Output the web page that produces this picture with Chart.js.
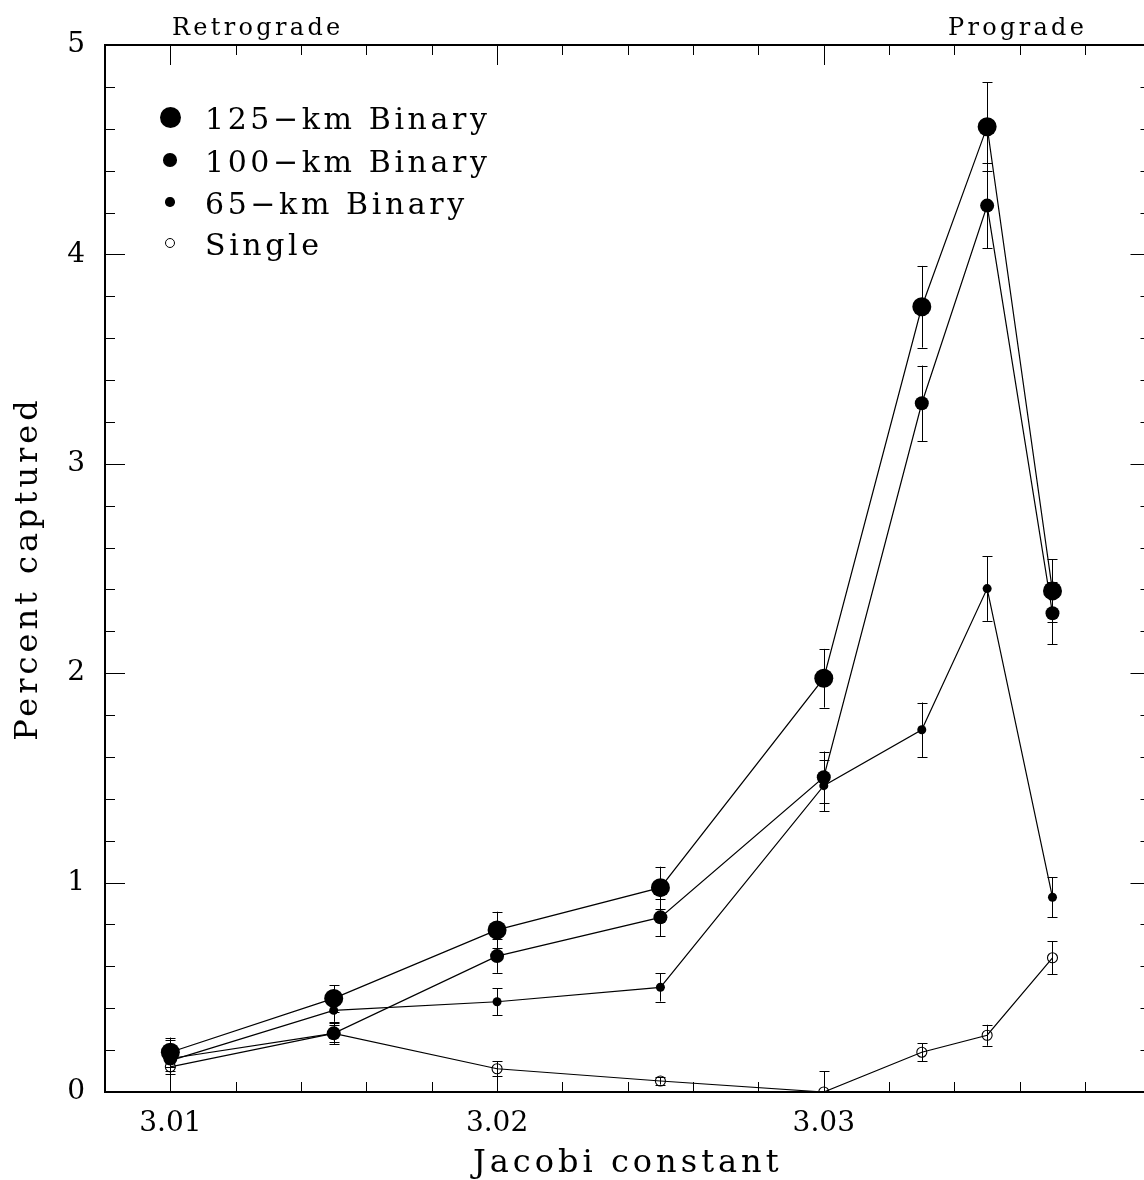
<!DOCTYPE html>
<html>
<head>
<meta charset="utf-8">
<script src="https://cdn.jsdelivr.net/npm/chart.js@4.4.1/dist/chart.umd.min.js"></script>
<style>
html,body{margin:0;padding:0;background:#fff;overflow:hidden;width:1144px;height:1180px;}
#wrap{position:relative;width:1160px;height:1180px;}
#c{position:absolute;left:0;top:0;}
.txt{position:absolute;font-family:'DejaVu Serif';color:#000;white-space:nowrap;}
.mk{position:absolute;border-radius:50%;box-sizing:border-box;}
</style>
</head>
<body>
<div id="wrap">
  <canvas id="c" width="1160" height="1180"></canvas>
  <div id="overlay"></div>
</div>
<script>
// ---------------- data ----------------
const jacobi      = [3.010, 3.015, 3.020, 3.025, 3.030, 3.033, 3.035, 3.037];
const seriesNames = ['125\u2212km Binary', '100\u2212km Binary', '65\u2212km Binary', 'Single'];
const binary125   = [0.19, 0.447, 0.774, 0.976, 1.976, 3.750, 4.610, 2.393];
const err125      = [0.07, 0.064, 0.087, 0.100, 0.140, 0.195, 0.212, 0.150];
const binary100   = [0.16, 0.280, 0.649, 0.834, 1.503, 3.289, 4.233, 2.286];
const err100      = [0.06, 0.050, 0.080, 0.089, 0.123, 0.180, 0.204, 0.148];
const binary65    = [0.15, 0.390, 0.431, 0.500, 1.463, 1.730, 2.404, 0.930];
const err65       = [0.065, 0.055, 0.065, 0.068, 0.121, 0.130, 0.154, 0.095];
const single      = [0.12, 0.280, 0.111, 0.0525, 0.0, 0.190, 0.271, 0.641];
const errSingle   = [0.13, 0.040, 0.035, 0.017, 0.100, 0.044, 0.050, 0.079];
const xTickValues = [3.01, 3.02, 3.03];
const xTickLabels = ['3.01', '3.02', '3.03'];
const yTickValues = [0, 1, 2, 3, 4, 5];
const yTickLabels = ['0', '1', '2', '3', '4', '5'];
const xTitle = 'Jacobi constant';
const yTitle = 'Percent captured';
const topLabels = ['Retrograde', 'Prograde'];

// ---------------- styling ----------------
const FONT = 'DejaVu Serif';
const seriesValues = [binary125, binary100, binary65, single];
const seriesErrors = [err125, err100, err65, errSingle];
const pointRadii   = [9.5, 7, 4.5, 5];
const filled       = [true, true, true, false];

const datasets = seriesValues.map((vals, k) => ({
  label: seriesNames[k],
  data: jacobi.map((x, i) => ({x: x, y: vals[i]})),
  borderColor: '#000',
  borderWidth: 1.2,
  pointRadius: pointRadii[k],
  pointHoverRadius: pointRadii[k],
  pointBackgroundColor: filled[k] ? '#000' : 'rgba(0,0,0,0)',
  pointBorderColor: '#000',
  pointBorderWidth: filled[k] ? 0 : 1.1,
  fill: false,
  tension: 0,
  errors: seriesErrors[k]
}));

function spaceTitle(scale, sp) {
  if (scale._spPatched) return;
  const orig = scale.drawTitle;
  scale.drawTitle = function () {
    const ctx = this.ctx;
    ctx.save();
    ctx.letterSpacing = sp;
    orig.apply(this, arguments);
    ctx.restore();
  };
  scale._spPatched = true;
}

const errorBars = {
  id: 'errorBars',
  afterDatasetsDraw(chart) {
    const {ctx, chartArea: a, scales: {x, y}} = chart;
    ctx.save();
    ctx.beginPath();
    ctx.rect(a.left, a.top, a.right - a.left, a.bottom - a.top);
    ctx.clip();
    ctx.strokeStyle = '#000';
    ctx.lineWidth = 1;
    chart.data.datasets.forEach(ds => {
      ds.data.forEach((p, i) => {
        const e = ds.errors[i];
        const px = Math.round(x.getPixelForValue(p.x)) + 0.5;
        const y1 = y.getPixelForValue(p.y + e);
        const y2 = y.getPixelForValue(p.y - e);
        ctx.beginPath();
        ctx.moveTo(px, y1); ctx.lineTo(px, y2);
        ctx.moveTo(px - 5, Math.round(y1) + 0.5); ctx.lineTo(px + 5, Math.round(y1) + 0.5);
        ctx.moveTo(px - 5, Math.round(y2) + 0.5); ctx.lineTo(px + 5, Math.round(y2) + 0.5);
        ctx.stroke();
      });
    });
    ctx.restore();
  }
};

const frameTicks = {
  id: 'frameTicks',
  afterDraw(chart) {
    const {ctx, chartArea: a, scales: {x, y}} = chart;
    ctx.save();
    ctx.strokeStyle = '#000';
    ctx.lineWidth = 2;
    ctx.beginPath();
    ctx.moveTo(a.left, a.top); ctx.lineTo(a.right, a.top); ctx.lineTo(a.right, a.bottom);
    ctx.stroke();
    ctx.lineWidth = 1;
    ctx.beginPath();
    // x ticks every 0.002, major each 0.01
    for (let k = 1504; k <= 1520; k++) {
      const v = k * 0.002;
      const px = Math.round(x.getPixelForValue(v)) + 0.5;
      const major = (k % 5 === 0);
      const len = major ? 20 : 10;
      ctx.moveTo(px, a.bottom); ctx.lineTo(px, a.bottom - len);
      ctx.moveTo(px, a.top); ctx.lineTo(px, a.top + len);
    }
    // y ticks every 0.2, major each 1
    for (let k = 0; k <= 25; k++) {
      const v = k * 0.2;
      const py = Math.round(y.getPixelForValue(v)) + 0.5;
      const major = (k % 5 === 0);
      const len = major ? 20 : 10;
      ctx.moveTo(a.left, py); ctx.lineTo(a.left + len, py);
      ctx.moveTo(a.right, py); ctx.lineTo(a.right - len, py);
    }
    ctx.stroke();
    ctx.restore();
  }
};

new Chart(document.getElementById('c'), {
  type: 'line',
  data: {datasets: datasets},
  plugins: [errorBars, frameTicks],
  options: {
    responsive: false,
    animation: false,
    devicePixelRatio: 1,
    layout: {padding: {top: 45, right: 8.5, left: 0, bottom: 0}},
    plugins: {legend: {display: false}, tooltip: {enabled: false}},
    scales: {
      x: {
        type: 'linear', position: 'bottom', min: 3.008, max: 3.04,
        afterBuildTicks: s => { s.ticks = xTickValues.map(v => ({value: v})); },
        afterFit: s => { s.height = 88; spaceTitle(s, '4px'); },
        grid: {display: false, drawTicks: false},
        border: {display: true, color: '#000', width: 2},
        ticks: {
          padding: 15, color: '#000', autoSkip: false, maxRotation: 0,
          font: {family: FONT, size: 28},
          callback: (v, i) => xTickLabels[i]
        },
        title: {display: true, text: xTitle, color: '#000', font: {family: FONT, size: 32, lineHeight: 1.0}, padding: {top: 0, bottom: 0}}
      },
      y: {
        type: 'linear', position: 'left', min: 0, max: 5,
        afterBuildTicks: s => { s.ticks = yTickValues.map(v => ({value: v})); },
        afterFit: s => { s.width = 105; spaceTitle(s, '4px'); },
        grid: {display: false, drawTicks: false},
        border: {display: true, color: '#000', width: 2},
        ticks: {
          padding: 20, color: '#000', autoSkip: false,
          font: {family: FONT, size: 28},
          callback: (v, i) => yTickLabels[i]
        },
        title: {display: true, text: yTitle, color: '#000', font: {family: FONT, size: 32}, padding: {top: 9, bottom: 0}}
      }
    }
  }
});

// ---------------- legend & annotations (HTML text) ----------------
const overlay = document.getElementById('overlay');
const legendRowsY = [117, 160, 202, 243];
const legendRadii = [10.5, 6.8, 4.7, 5];
seriesNames.forEach((name, k) => {
  const r = legendRadii[k];
  const m = document.createElement('div');
  m.className = 'mk';
  m.style.left = (170 - r) + 'px';
  m.style.top = (legendRowsY[k] - r) + 'px';
  m.style.width = (2 * r) + 'px';
  m.style.height = (2 * r) + 'px';
  m.style.background = filled[k] ? '#000' : 'transparent';
  m.style.border = filled[k] ? 'none' : '1.1px solid #000';
  overlay.appendChild(m);
  const t = document.createElement('div');
  t.className = 'txt';
  t.textContent = name;
  t.style.left = '205px';
  t.style.top = (legendRowsY[k] - 19.4) + 'px';
  t.style.fontSize = '30px';
  t.style.lineHeight = '42px';
  t.style.letterSpacing = '3.6px';
  overlay.appendChild(t);
});
const topLabelX = [172, 948];
topLabels.forEach((s, k) => {
  const t = document.createElement('div');
  t.className = 'txt';
  t.textContent = s;
  t.style.left = topLabelX[k] + 'px';
  t.style.top = '15px';
  t.style.fontSize = '24px';
  t.style.lineHeight = '24px';
  t.style.letterSpacing = '3.3px';
  overlay.appendChild(t);
});
</script>
</body>
</html>
